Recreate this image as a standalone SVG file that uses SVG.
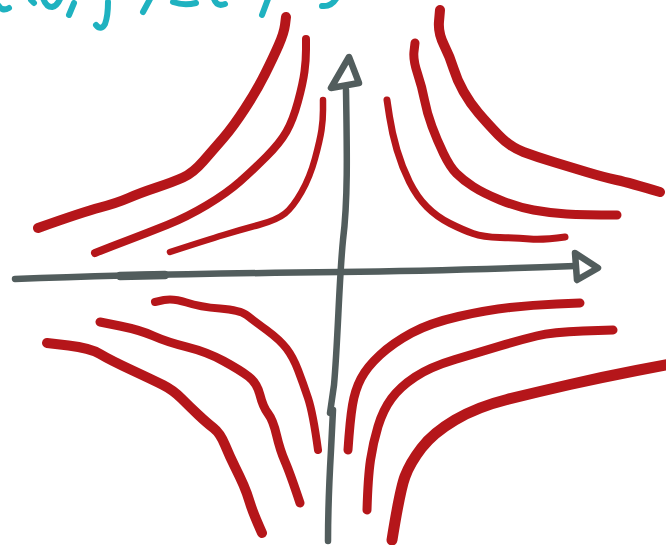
<svg xmlns="http://www.w3.org/2000/svg" width="666" height="545" viewBox="0 0 666 545">
<style>
.r{fill:none;stroke:#b5161a;stroke-linecap:round;stroke-linejoin:round}
.g{fill:none;stroke:#525d5d;stroke-linecap:round;stroke-linejoin:round}
.t{fill:none;stroke:#1fb2c0;stroke-width:6;stroke-linecap:round;stroke-linejoin:round}
</style>
<rect width="666" height="545" fill="#ffffff"/>
<g id="handwriting">
<path class="t" d="M-2,5 Q2,12 9,8"/>
<path class="t" d="M31,0 L34,3"/>
<path class="t" d="M43,-2 Q46,7 52,7 Q57,6 60,-1"/>
<path class="t" d="M74,3 L69,15"/>
<path class="t" d="M108,2 Q108,16 105,24 Q101,31 96,25"/>
<path class="t" d="M150,-1 L143,12"/>
<path class="t" d="M173,2 Q184,6 196,3"/>
<path class="t" d="M214,-1 Q217,7 225,4"/>
<path class="t" d="M268,-1 L262,15"/>
<path class="t" d="M336,-1 Q331,7 322,6"/>
</g>
<g id="axes">
<path class="g" stroke-width="6.5" d="M15,279 C120,275 250,273 340,272 C430,271 520,268 575,266"/>
<path class="g" stroke-width="8.5" d="M120,276 L165,275"/>
<path class="g" stroke-width="6.5" d="M575,253 L598,268 L577,280 Z"/>
<path class="g" stroke-width="6.5" d="M346,90 C347,150 348,200 343,240 C339,280 338,340 334,385 L330,413"/>
<path class="g" stroke-width="6.5" d="M333,410 L331,450 C329,485 328,515 328,541"/>
<path class="g" stroke-width="6.5" d="M349,57 L331,88 L359,83 Z"/>
</g>
<g id="top-left">
<path class="r" stroke-width="10" d="M286,17 L285,25 Q284,33 278.5,45.5 Q273,58 265,74 Q257,90 245,108.5 Q233,127 223,138.5 Q213,150 203,161.5 Q193,173 183,177.5 Q173,182 156.5,187.5 Q140,193 128.5,198 Q117,203 100,207.5 Q83,212 38,228"/>
<path class="r" stroke-width="8" d="M306,39 L306,49.5 Q306,60 304.5,71.5 Q303,83 298,101.5 Q293,120 286.5,131.5 Q280,143 266.5,156.5 Q253,170 240,181.5 Q227,193 207,205 Q187,217 167,225 Q147,233 128.5,240 Q110,247 95,253"/>
<path class="r" stroke-width="6.5" d="M323,100 L323,110 Q323,120 321.5,130 Q320,140 315,158.5 Q310,177 301.5,192 Q293,207 285,213.5 Q277,220 258.5,225 Q240,230 223.5,235 Q207,240 170,252"/>
</g>
<g id="top-right">
<path class="r" stroke-width="10" d="M440,10 L439,21.5 Q438,33 444,45 Q450,57 453.5,68.5 Q457,80 463.5,91.5 Q470,103 478.5,113 Q487,123 498.5,135 Q510,147 523.5,152 Q537,157 553.5,162 Q570,167 586.5,172 Q603,177 616.5,180 Q630,183 660,192"/>
<path class="r" stroke-width="9" d="M415,43 L414,51.5 Q413,60 417.5,73.5 Q422,87 424.5,100 Q427,113 432,126.5 Q437,140 443.5,153.5 Q450,167 456.5,173.5 Q463,180 473,186.5 Q483,193 500,200 Q517,207 533.5,210 Q550,213 566.5,214 Q583,215 617,215"/>
<path class="r" stroke-width="7" d="M387,100 L389.5,116.5 Q392,133 397,150 Q402,167 409.5,182 Q417,197 427,207 Q437,217 450,223.5 Q463,230 473,233.5 Q483,237 500,237.5 Q517,238 530,239 Q543,240 565,237"/>
</g>
<g id="bottom-left">
<path class="r" stroke-width="8" d="M155,302 L164,300 Q173,298 186.5,302.5 Q200,307 220,308.5 Q240,310 246.5,315 Q253,320 266.5,330 Q280,340 286.5,348.5 Q293,357 298,370 Q303,383 308,398 Q313,413 318,450"/>
<path class="r" stroke-width="9" d="M100,322 L120,326 Q140,330 153.5,336 Q167,342 187,347 Q207,352 223.5,361 Q240,370 248.5,376.5 Q257,383 260,395 Q263,407 268,413.5 Q273,420 276.5,435 Q280,450 285,461.5 Q290,473 300,503"/>
<path class="r" stroke-width="10" d="M47,343 L68.5,345.5 Q90,348 100,354 Q110,360 131.5,370 Q153,380 163,385 Q173,390 181.5,398.5 Q190,407 198.5,415 Q207,423 213.5,428 Q220,433 225,445 Q230,457 235,467 Q240,477 243.5,485 Q247,493 250,503 Q253,513 262,533"/>
</g>
<g id="bottom-right">
<path class="r" stroke-width="9" d="M580,303 L556.5,304 Q533,305 510,307.5 Q487,310 458.5,316.5 Q430,323 411.5,333 Q393,343 380,355 Q367,367 361,378.5 Q355,390 352.5,405 Q350,420 348,450"/>
<path class="r" stroke-width="9" d="M613,330 L583,331 Q553,332 536.5,336 Q520,340 500,346 Q480,352 455,359.5 Q430,367 415,377 Q400,387 391.5,398.5 Q383,410 378,426.5 Q373,443 370.5,460 Q368,477 367,510"/>
<path class="r" stroke-width="11" d="M670,364 L636.5,370.5 Q603,377 570,384.5 Q537,392 507,399.5 Q477,407 455,420 Q433,433 421.5,448 Q410,463 405,476.5 Q400,490 392,540"/>
</g>
</svg>
